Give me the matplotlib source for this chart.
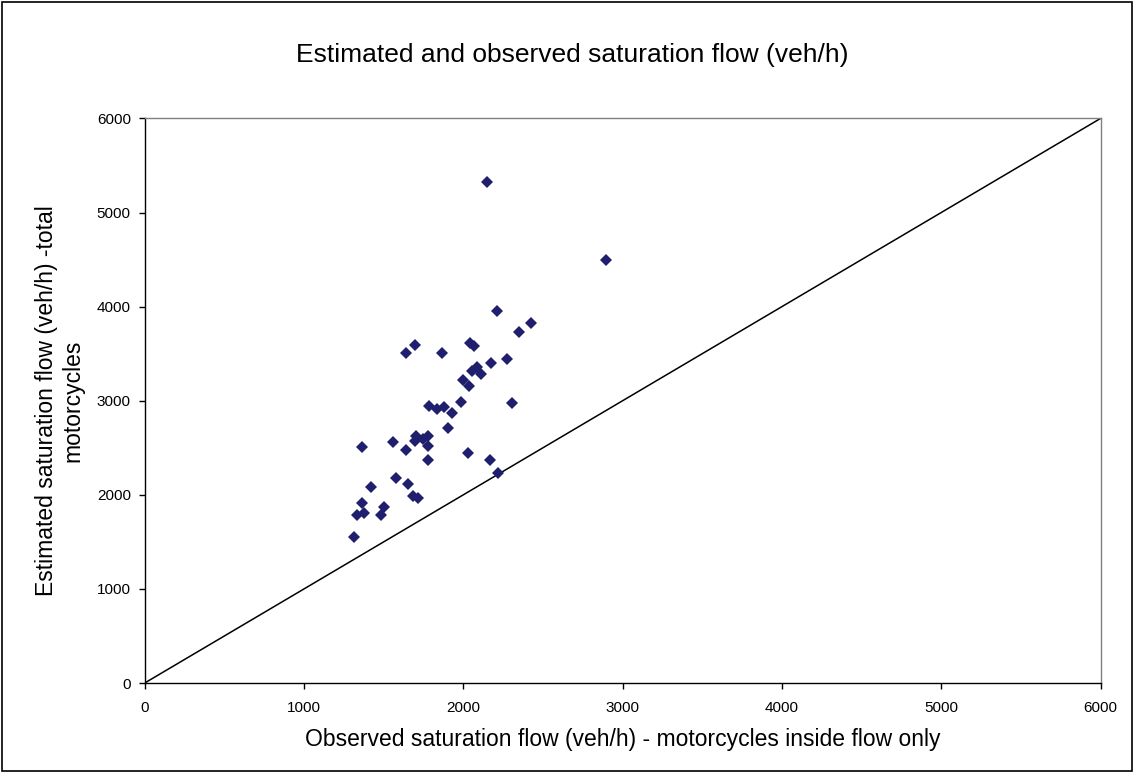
import matplotlib.pyplot as plt

# observed (x) vs estimated (y) saturation flow, veh/h
observed = [2151, 2894, 2209, 2423, 2350, 1696, 1641, 1866, 2040, 2069,
            2277, 2172, 2088, 2057, 2111, 1996, 2038, 1983, 2308, 1786,
            1832, 1876, 1927, 1906, 1700, 1694, 1746, 1778, 1778, 1560,
            1363, 1641, 1780, 2031, 2168, 2216, 1579, 1423, 1652, 1684,
            1717, 1363, 1499, 1375, 1331, 1482, 1316]
estimated = [5322, 4492, 3953, 3826, 3728, 3587, 3506, 3506, 3611, 3583,
             3446, 3397, 3355, 3319, 3281, 3217, 3161, 2985, 2971, 2939,
             2914, 2935, 2869, 2714, 2629, 2577, 2598, 2626, 2516, 2559,
             2503, 2481, 2373, 2447, 2365, 2231, 2179, 2084, 2112, 1989,
             1964, 1915, 1873, 1809, 1781, 1788, 1555]

line_x = [0, 6000]
line_y = [0, 6000]
ticks = [0, 1000, 2000, 3000, 4000, 5000, 6000]

plt.rcParams['font.family'] = ['Liberation Sans', 'DejaVu Sans']

fig = plt.figure(figsize=(11.34, 7.73), dpi=100)
ax = fig.add_axes([0.1276, 0.1164, 0.8429, 0.7304])

ax.plot(line_x, line_y, color='black', linewidth=1.1)
ax.plot(observed, estimated, linestyle='none', marker='D', markersize=6,
        color='#1f1f6e', markeredgewidth=0)

ax.set_xlim(0, 6000)
ax.set_ylim(0, 6000)
ax.set_xticks(ticks)
ax.set_yticks(ticks)
ax.tick_params(direction='out', length=4, width=1, labelsize=11)
ax.tick_params(axis='x', pad=9)
ax.tick_params(axis='y', pad=6)

for side in ['top', 'right']:
    ax.spines[side].set_color('#808080')
for side in ['left', 'bottom']:
    ax.spines[side].set_color('black')
for s in ax.spines.values():
    s.set_linewidth(1)

fig.text(0.505, 0.929, 'Estimated and observed saturation flow (veh/h)',
         ha='center', va='center', fontsize=19)
ax.set_xlabel('Observed saturation flow (veh/h) - motorcycles inside flow only',
              fontsize=16.5, labelpad=9)
ax.set_ylabel('Estimated saturation flow (veh/h) -total\nmotorcycles',
              fontsize=16.5, labelpad=9, linespacing=1.2)

# outer chart border
fig.patches.append(plt.Rectangle((0.002, 0.002), 0.996, 0.996, transform=fig.transFigure,
                                 fill=False, edgecolor='black', linewidth=1.2))

fig.savefig('out.png', dpi=100)
